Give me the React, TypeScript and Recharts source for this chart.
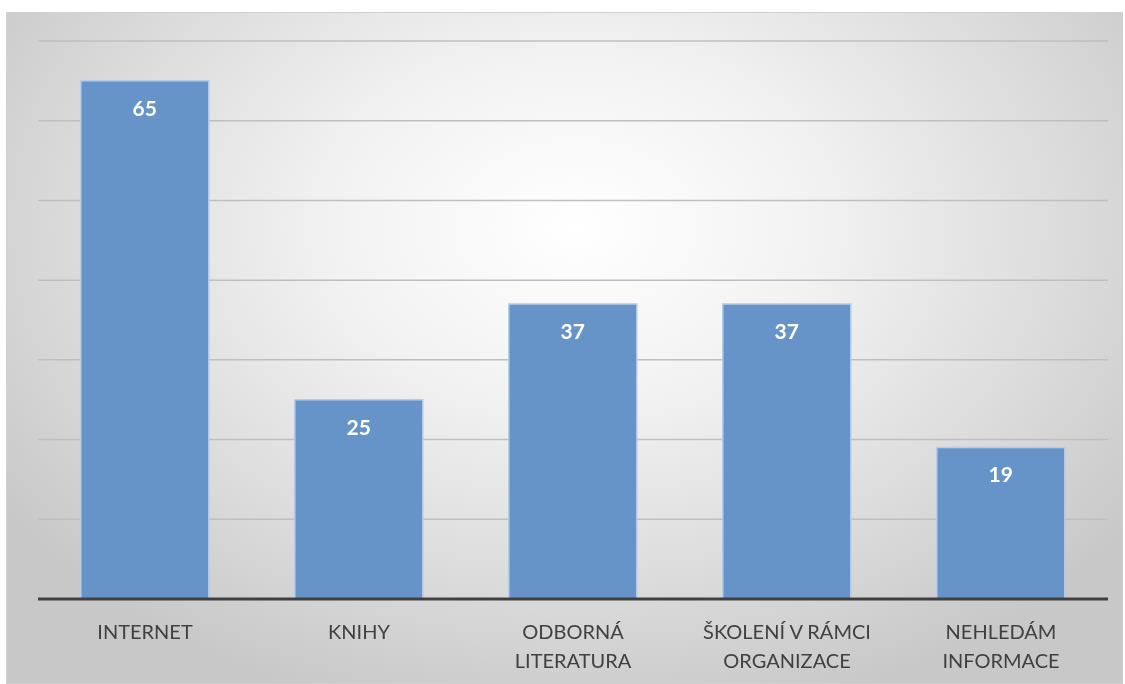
import { BarChart, Bar, XAxis, YAxis, CartesianGrid, LabelList } from 'recharts'

const categories = ['INTERNET', 'KNIHY', 'ODBORNÁ\nLITERATURA', 'ŠKOLENÍ V RÁMCI\nORGANIZACE', 'NEHLEDÁM\nINFORMACE']
const values = [65, 25, 37, 37, 19]
const yTicks = [0, 10, 20, 30, 40, 50, 60, 70]

const data = categories.map((name, i) => ({ name, value: values[i] }))

const FONT = 'Lato, "Open Sans", sans-serif'

function CategoryTick(props: any) {
  const { x, y, payload } = props
  const lines = String(payload.value).split('\n')
  return (
    <g transform={`translate(${x},${y})`}>
      {lines.map((line: string, i: number) => (
        <text
          key={i}
          x={0}
          y={32 + i * 29}
          textAnchor="middle"
          fill="#404040"
          fontSize={20}
          fontFamily={FONT}
        >
          {line}
        </text>
      ))}
    </g>
  )
}

export default function App() {
  return (
    <div
      style={{
        position: 'fixed',
        left: 6,
        top: 12,
        width: 1117,
        height: 672,
        background: 'radial-gradient(ellipse 62% 75% at 51% 32%, #ffffff 0%, #f2f2f2 35%, #d9d9d9 75%, #c8c8c8 100%)',
        border: '1px solid #d0d0d0',
        boxSizing: 'border-box',
      }}
    >
      <BarChart
        width={1117}
        height={672}
        data={data}
        margin={{ top: 28, right: 16, left: 31, bottom: 0 }}
        barCategoryGap="20%"
      >
        <CartesianGrid vertical={false} stroke="#bfbfbf" strokeWidth={1.5} />
        <YAxis hide domain={[0, 70]} ticks={yTicks} />
        <XAxis
          dataKey="name"
          height={86}
          axisLine={{ stroke: '#404040', strokeWidth: 3 }}
          tickLine={false}
          tick={<CategoryTick />}
          interval={0}
        />
        <Bar dataKey="value" fill="#6794c8" stroke="#b6cbe6" strokeWidth={1.5} isAnimationActive={false}>
          <LabelList
            dataKey="value"
            position="insideTop"
            offset={20}
            fill="#ffffff"
            fontSize={21}
            fontWeight="bold"
            fontFamily={FONT}
          />
        </Bar>
      </BarChart>
    </div>
  )
}
